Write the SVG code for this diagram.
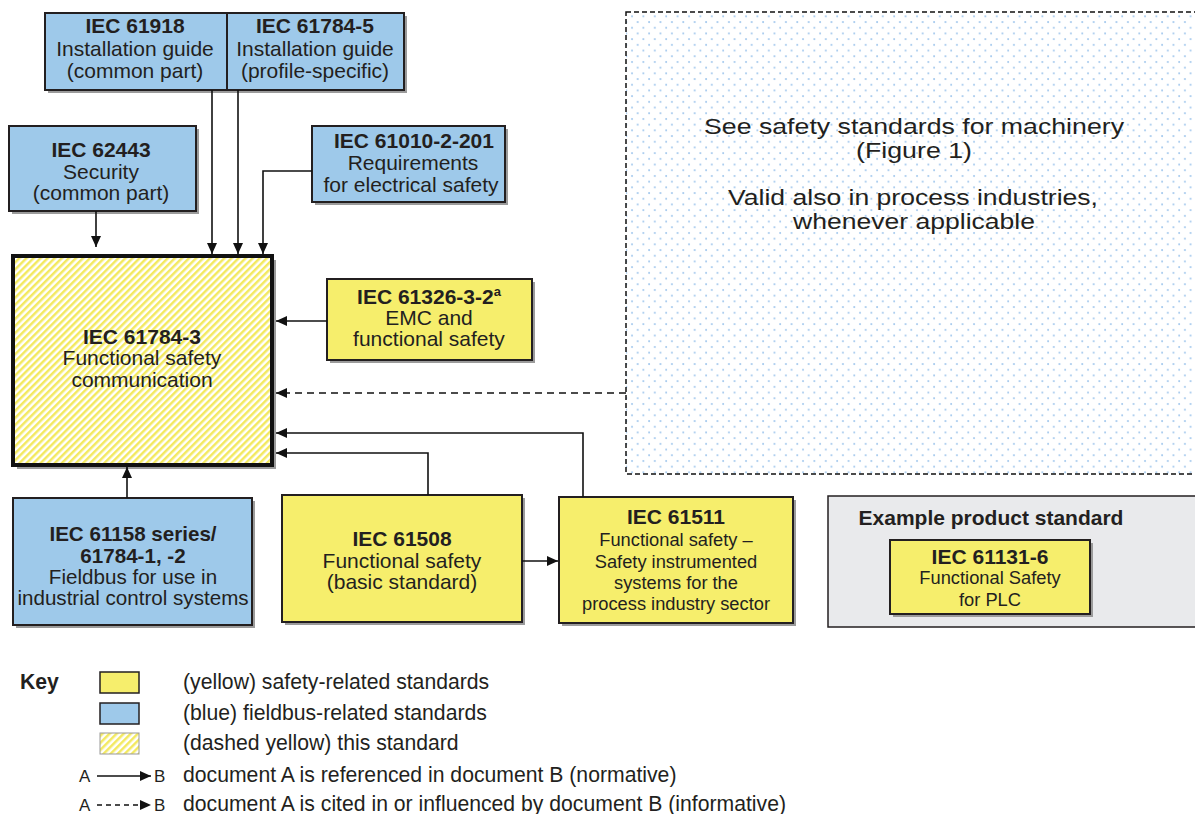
<svg xmlns="http://www.w3.org/2000/svg" width="1195" height="814" viewBox="0 0 1195 814">
<defs>
<pattern id="hatch" patternUnits="userSpaceOnUse" width="5" height="5" patternTransform="rotate(45)">
<rect x="0" y="0" width="2.5" height="5" fill="#f3e960"/>
</pattern>
<pattern id="dots" patternUnits="userSpaceOnUse" width="11.4" height="11.4" x="3" y="3">
<circle cx="2" cy="2" r="1" fill="#9fc6ec"/>
<circle cx="7.7" cy="7.7" r="1" fill="#9fc6ec"/>
</pattern>
<marker id="ah" markerWidth="12" markerHeight="10" refX="11" refY="5" orient="auto" markerUnits="userSpaceOnUse">
<path d="M0,0 L11,5 L0,10 z" fill="#111"/>
</marker>
<style>
.blue{fill:#9ec9ea;stroke:#231f20;stroke-width:2}
.yel{fill:#f6ee6c;stroke:#231f20;stroke-width:2}
.sh{fill:#9b9b9b}
.t{font-family:"Liberation Sans",Arial,sans-serif;font-size:21px;fill:#231f20;text-anchor:middle}
.tn{font-size:20.6px}
.b{font-weight:bold}
.s{font-size:18.3px}
.m{font-size:22.5px}
.k{font-family:"Liberation Sans",Arial,sans-serif;font-size:21.2px;fill:#231f20}
.c{fill:none;stroke:#111;stroke-width:1.6}
.d{stroke-dasharray:7,5}
</style>
</defs>
<rect width="1195" height="814" fill="#fff"/>

<g id="machinery">
<rect x="626" y="12" width="580" height="462" fill="#fff"/>
<rect x="626" y="12" width="580" height="462" fill="url(#dots)" stroke="#111" stroke-width="1.5" stroke-dasharray="5,3"/>
<text class="t m" x="914" y="134" textLength="420" lengthAdjust="spacingAndGlyphs">See safety standards for machinery</text>
<text class="t m" x="914" y="158" textLength="116" lengthAdjust="spacingAndGlyphs">(Figure 1)</text>
<text class="t m" x="913" y="205" textLength="370" lengthAdjust="spacingAndGlyphs">Valid also in process industries,</text>
<text class="t m" x="914" y="229" textLength="242" lengthAdjust="spacingAndGlyphs">whenever applicable</text>
</g>

<g id="iec61918">
<rect class="sh" x="48" y="16" width="182" height="77"/>
<rect class="blue" x="45" y="13" width="182" height="77"/>
<text class="t b" x="135" y="33">IEC 61918</text>
<text class="t" x="135" y="56">Installation guide</text>
<text class="t" x="135" y="78">(common part)</text>
</g>

<g id="iec61784-5">
<rect class="sh" x="230" y="16" width="177" height="77"/>
<rect class="blue" x="227" y="13" width="177" height="77"/>
<text class="t b" x="315" y="33">IEC 61784-5</text>
<text class="t" x="315" y="56">Installation guide</text>
<text class="t" x="315" y="78">(profile-specific)</text>
</g>

<g id="iec62443">
<rect class="sh" x="12" y="129" width="187" height="85"/>
<rect class="blue" x="9" y="126" width="187" height="85"/>
<text class="t b" x="101" y="157">IEC 62443</text>
<text class="t" x="101" y="179">Security</text>
<text class="t" x="101" y="200">(common part)</text>
</g>

<g id="iec61010">
<rect class="sh" x="315" y="129" width="193" height="76"/>
<rect class="blue" x="312" y="126" width="193" height="76"/>
<text class="t b" x="414" y="148">IEC 61010-2-201</text>
<text class="t" x="413" y="170">Requirements</text>
<text class="t" x="411" y="192">for electrical safety</text>
</g>

<g id="iec61784-3">
<rect class="sh" x="17" y="260" width="259" height="209"/>
<rect x="13" y="256" width="259" height="209" fill="#fff"/>
<rect x="13" y="256" width="259" height="209" fill="url(#hatch)" stroke="#111" stroke-width="4"/>
<text class="t b" x="142" y="344">IEC 61784-3</text>
<text class="t" x="142" y="365">Functional safety</text>
<text class="t" x="142" y="387">communication</text>
</g>

<g id="iec61326">
<rect class="sh" x="330" y="282" width="205" height="81"/>
<rect class="yel" x="327" y="279" width="205" height="81"/>
<text class="t b" x="429" y="304">IEC 61326-3-2<tspan style="font-size:13px" dy="-8">a</tspan></text>
<text class="t" x="429" y="325">EMC and</text>
<text class="t" x="429" y="346">functional safety</text>
</g>

<g id="iec61158">
<rect class="sh" x="16" y="501" width="239" height="127"/>
<rect class="blue" x="13" y="498" width="239" height="127"/>
<text class="t b tn" x="133" y="541">IEC 61158 series/</text>
<text class="t b tn" x="133" y="563">61784-1, -2</text>
<text class="t tn" x="133" y="584">Fieldbus for use in</text>
<text class="t tn" x="133" y="605">industrial control systems</text>
</g>

<g id="iec61508">
<rect class="sh" x="285" y="498" width="240" height="127"/>
<rect class="yel" x="282" y="495" width="240" height="127"/>
<text class="t b" x="402" y="546">IEC 61508</text>
<text class="t" x="402" y="568">Functional safety</text>
<text class="t" x="402" y="589">(basic standard)</text>
</g>

<g id="iec61511">
<rect class="sh" x="562" y="500" width="234" height="126"/>
<rect class="yel" x="559" y="497" width="234" height="126"/>
<text class="t b" x="676" y="524">IEC 61511</text>
<text class="t s" x="676" y="546">Functional safety –</text>
<text class="t s" x="676" y="568">Safety instrumented</text>
<text class="t s" x="676" y="589">systems for the</text>
<text class="t s" x="676" y="610">process industry sector</text>
</g>

<g id="product">
<rect x="828" y="496" width="380" height="131" fill="#e9eaec" stroke="#231f20" stroke-width="1.5"/>
<text class="t b" x="991" y="525">Example product standard</text>
</g>

<g id="iec61131">
<rect class="sh" x="893" y="543" width="200" height="74"/>
<rect class="yel" x="890" y="540" width="200" height="74"/>
<text class="t b" x="990" y="564">IEC 61131-6</text>
<text class="t s" x="990" y="584">Functional Safety</text>
<text class="t s" x="990" y="606">for PLC</text>
</g>

<g id="connectors">
<path class="c" d="M96,211 V247" marker-end="url(#ah)"/>
<path class="c" d="M212,90 V254" marker-end="url(#ah)"/>
<path class="c" d="M238,90 V254" marker-end="url(#ah)"/>
<path class="c" d="M312,171 H263 V254" marker-end="url(#ah)"/>
<path class="c" d="M327,321 H276" marker-end="url(#ah)"/>
<path class="c d" d="M626,393 H276" marker-end="url(#ah)"/>
<path class="c" d="M583,497 V433 H276" marker-end="url(#ah)"/>
<path class="c" d="M428,495 V453 H276" marker-end="url(#ah)"/>
<path class="c" d="M127,498 V467" marker-end="url(#ah)"/>
<path class="c" d="M522,561 H558" marker-end="url(#ah)"/>
</g>

<g id="key">
<text class="k b" x="20" y="689">Key</text>
<rect class="yel" x="100" y="672" width="39" height="21" style="stroke-width:1.5"/>
<text class="k" x="183" y="689">(yellow) safety-related standards</text>
<rect class="blue" x="100" y="703" width="39" height="21" style="stroke-width:1.5"/>
<text class="k" x="183" y="720">(blue) fieldbus-related standards</text>
<rect x="100" y="733" width="39" height="21" fill="#fff"/>
<rect x="100" y="733" width="39" height="21" fill="url(#hatch)" stroke="#999" stroke-width="1"/>
<text class="k" x="183" y="750">(dashed yellow) this standard</text>
<text class="k" style="font-size:17px" x="79" y="782">A</text>
<path class="c" d="M97,776 H151" marker-end="url(#ah)"/>
<text class="k" style="font-size:17px" x="154" y="782">B</text>
<text class="k" x="183" y="782">document A is referenced in document B (normative)</text>
<text class="k" style="font-size:17px" x="79" y="811">A</text>
<path class="c d" style="stroke-dasharray:5,4" d="M97,805 H151" marker-end="url(#ah)"/>
<text class="k" style="font-size:17px" x="154" y="811">B</text>
<text class="k" x="183" y="811">document A is cited in or influenced by document B (informative)</text>
</g>
</svg>
